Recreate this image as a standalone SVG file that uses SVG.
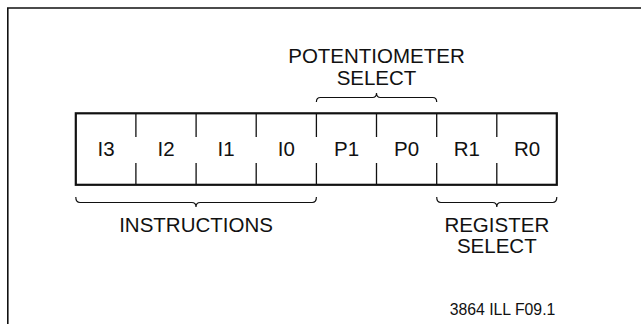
<svg xmlns="http://www.w3.org/2000/svg" width="641" height="324" viewBox="0 0 641 324">
<style>
text{font-family:"Liberation Sans",Arial,Helvetica,sans-serif;fill:#111;text-anchor:middle}
.lbl{font-size:20.5px}
.bit{font-size:20.5px}
.ft{font-size:15.8px}
.div{stroke:#111;stroke-width:1.3;fill:none}
.brace{stroke:#111;stroke-width:1.2;fill:none}
</style>
<rect width="641" height="324" fill="#fff"/>
<path d="M7.8,324 V8 H641" fill="none" stroke="#111" stroke-width="1.6"/>
<g id="register">
<rect x="75.8" y="113.3" width="481" height="71.5" fill="none" stroke="#111" stroke-width="2.2"/>
</g>
<g id="dividers">
<path class="div" d="M135.9,113 V137 M135.9,163 V185 M196.1,113 V137 M196.1,163 V185 M256.2,113 V137 M256.2,163 V185 M316.4,113 V137 M316.4,163 V185 M376.5,113 V137 M376.5,163 V185 M436.7,113 V137 M436.7,163 V185 M496.8,113 V137 M496.8,163 V185"/>
</g>
<g id="bit-I3"><text class="bit" x="106" y="155.5">I3</text></g>
<g id="bit-I2"><text class="bit" x="166" y="155.5">I2</text></g>
<g id="bit-I1"><text class="bit" x="226" y="155.5">I1</text></g>
<g id="bit-I0"><text class="bit" x="286.3" y="155.5">I0</text></g>
<g id="bit-P1"><text class="bit" x="346.5" y="155.5">P1</text></g>
<g id="bit-P0"><text class="bit" x="406.6" y="155.5">P0</text></g>
<g id="bit-R1"><text class="bit" x="466.8" y="155.5">R1</text></g>
<g id="bit-R0"><text class="bit" x="527" y="155.5">R0</text></g>
<g id="braces">
<path class="brace" d="M316.4,102 Q316.4,97.5 320.4,97.5 H372.5 Q376.5,97.5 376.5,93 Q376.5,97.5 380.5,97.5 H432.7 Q436.7,97.5 436.7,102"/>
<path class="brace" d="M75.8,197 Q75.8,202.5 80,202.5 H191.8 Q196,202.5 196,207 Q196,202.5 200.2,202.5 H312.2 Q316.4,202.5 316.4,197"/>
<path class="brace" d="M436.7,197 Q436.7,202.5 440.9,202.5 H492.6 Q496.8,202.5 496.8,207 Q496.8,202.5 501,202.5 H552.6 Q556.8,202.5 556.8,197"/>
</g>
<g id="label-potentiometer">
<text class="lbl" x="376.5" y="63">POTENTIOMETER</text>
<text class="lbl" x="376.5" y="84.5">SELECT</text>
</g>
<g id="label-instructions"><text class="lbl" x="196" y="232">INSTRUCTIONS</text></g>
<g id="label-register">
<text class="lbl" x="496.8" y="231.5">REGISTER</text>
<text class="lbl" x="496.8" y="253">SELECT</text>
</g>
<g id="footer"><text class="ft" x="502.5" y="315">3864 ILL F09.1</text></g>
</svg>
